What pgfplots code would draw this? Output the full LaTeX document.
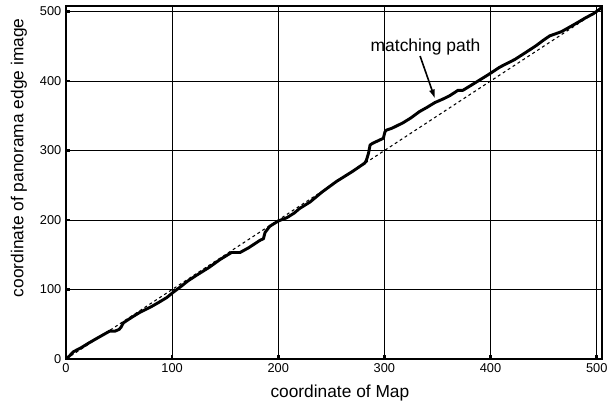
\documentclass[border=0pt]{standalone}
\usepackage{fontspec}
\setmainfont{Liberation Sans}
\usepackage{pgfplots}
\pgfplotsset{compat=1.18}
\usetikzlibrary{arrows.meta}

% matching path between map coordinates and panorama edge image coordinates
\pgfplotstableread{
x y
0 0
3 4
7 10.5
14 16
22 23.5
30 30.5
41 40
46 40
50 42.5
52 46
54 52
62 60
70 67.5
80 75
88 82
95 88.5
101 96
108 104
115 112.5
120 117.5
123 120.5
135 132
145 143
156 153.3
164 153.3
172 160
183 171
186 173
187.5 182
192 191
200 198.6
208 203.3
215 210
220 216.5
230 226
241 240
255 255.7
258 258.5
270 270
281.5 282
283 286
285 296
286.5 308
289 310.5
299 317.6
300.5 327
302 329.5
307 332
317.6 340
325 347
333 356
340 362
347.5 369
355 374
361.6 379
369.4 386.7
374 386.7
385 397
397.7 409
408.7 420
415 425
422.8 431
433 441
443 451
450 459
455.7 465
460.5 467.6
466.7 471
477.7 480.4
490 491.4
497 497
505 506
}\pathdata

\begin{document}
\begin{tikzpicture}[x=0.75pt,y=0.75pt]
\begin{axis}[
  at={(0,0)}, anchor=south west,
  scale only axis,
  width=402pt, height=264.75pt,
  xmin=0, xmax=505, ymin=0, ymax=508,
  xtick={0,100,...,500}, ytick={0,100,...,500},
  grid=major,
  major grid style={black, line width=0.7pt},
  axis line style={black, line width=1.1pt},
  tick align=inside,
  xtick pos=bottom, ytick pos=left,
  major tick length=3pt,
  tick style={line width=2pt, black},
  tick label style={font=\fontsize{9.6}{11}\selectfont},
  /pgf/number format/assume math mode=true,
  xlabel={coordinate of Map},
  ylabel={coordinate of panorama edge image},
  label style={font=\fontsize{13}{15}\selectfont},
  xlabel style={at={(axis description cs:0.511,-0.096)}, anchor=center},
  ylabel style={at={(axis description cs:-0.088,0.57)}, anchor=center},
]
\addplot[black, line width=0.8pt, dash pattern=on 2.2pt off 2.2pt] coordinates {(0,0) (505,505)};
\addplot[black, line width=2.2pt, line join=round] table[x=x, y=y] {\pathdata};
\node[font=\fontsize{13.1}{15}\selectfont] at (axis cs:338.7,449.2) {matching path};
\draw[black, line width=1.2pt, -{Latex[length=7pt,width=4.5pt]}] (axis cs:333.6,436) -- (axis cs:347.7,374.4);
\end{axis}
\pgfresetboundingbox
\useasboundingbox (-66,-45) rectangle (547,359);
\end{tikzpicture}
\end{document}
